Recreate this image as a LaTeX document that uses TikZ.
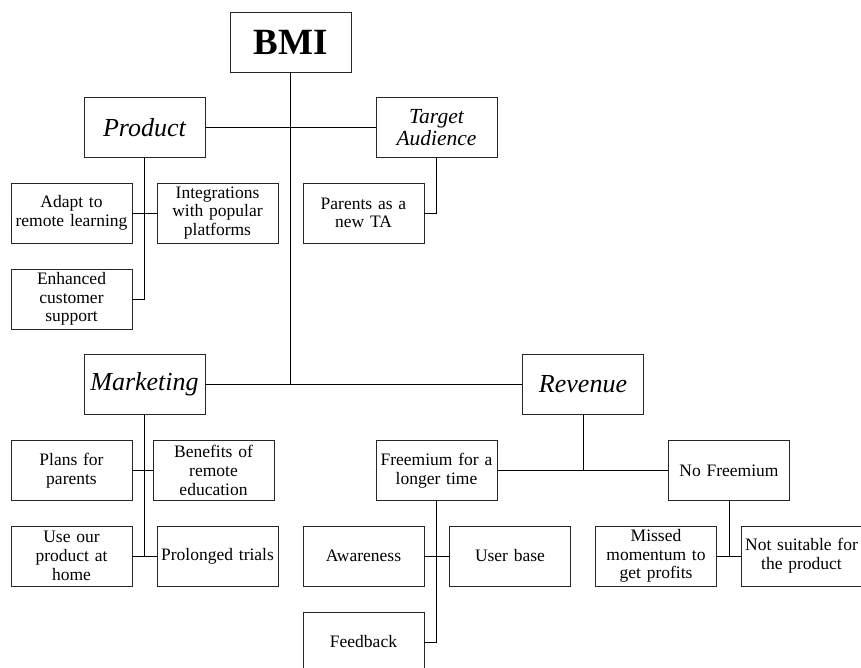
\documentclass[tikz,border=0pt]{standalone}
\usepackage{fontspec}
\setmainfont{Liberation Serif}
\begin{document}
\begin{tikzpicture}[x=1pt,y=-1pt,
  box/.style={draw=black!85, line width=0.7pt, minimum width=121pt, minimum height=60pt,
    text width=119pt, inner sep=0pt, align=center, font=\fontsize{17.5}{18.7}\selectfont},
  title/.style={box, font=\fontsize{26}{26}\selectfont\itshape},
  conn/.style={line width=0.7pt, black}]
\useasboundingbox (0,0) rectangle (861,668);
\clip (0,0) rectangle (861,668);
\node[box, font=\fontsize{37}{37}\selectfont\bfseries] (bmi) at (290.5,42) {BMI};
\node[title] (product) at (144.5,127.5) {Product};
\node[box, font=\fontsize{21.5}{21.7}\selectfont\itshape] (target) at (436.5,127.5) {Target\\Audience};
\node[box] (adapt) at (71.5,213) {Adapt to\\remote learning};
\node[box] (integ) at (217.5,213) {Integrations\\with popular\\platforms};
\node[box] (parents) at (363.5,213) {Parents as a\\new TA};
\node[box] (enh) at (71.5,299) {Enhanced\\customer\\support};
\node[title] (marketing) at (144.5,384.5) {Marketing};
\node[box] (plans) at (71.5,470.5) {Plans for\\parents};
\node[box] (benefits) at (213.5,470.5) {Benefits of\\remote\\education};
\node[box] (useour) at (71.5,556) {Use our\\product at\\home};
\node[box] (prolonged) at (217.5,556) {Prolonged trials};
\node[title] (revenue) at (583,384.5) {Revenue};
\node[box] (freemium) at (436.5,470.5) {Freemium for a\\longer time};
\node[box] (nofree) at (729,470.5) {No Freemium};
\node[box] (awareness) at (363.5,556) {Awareness};
\node[box] (userbase) at (510,556) {User base};
\node[box] (feedback) at (363.5,642) {Feedback};
\node[box] (missed) at (656,556) {Missed\\momentum to\\get profits};
\node[box] (notsuit) at (801.5,556) {Not suitable for\\the product};
% connectors
\draw[conn] (bmi.south) -- (bmi.south |- marketing.east);
\draw[conn] (marketing.east) -- (revenue.west);
\draw[conn] (product.east) -- (target.west);
\draw[conn] (product.south) |- (enh.east);
\draw[conn] (adapt.east) -- (integ.west);
\draw[conn] (target.south) |- (parents.east);
\draw[conn] (marketing.south) |- (useour.east);
\draw[conn] (useour.east) -- (prolonged.west);
\draw[conn] (plans.east) -- (benefits.west);
\draw[conn] (revenue.south) -- (revenue.south |- freemium.east);
\draw[conn] (freemium.east) -- (nofree.west);
\draw[conn] (freemium.south) |- (feedback.east);
\draw[conn] (awareness.east) -- (userbase.west);
\draw[conn] (nofree.south) -- (nofree.south |- missed.east);
\draw[conn] (missed.east) -- (notsuit.west);
\end{tikzpicture}
\end{document}
